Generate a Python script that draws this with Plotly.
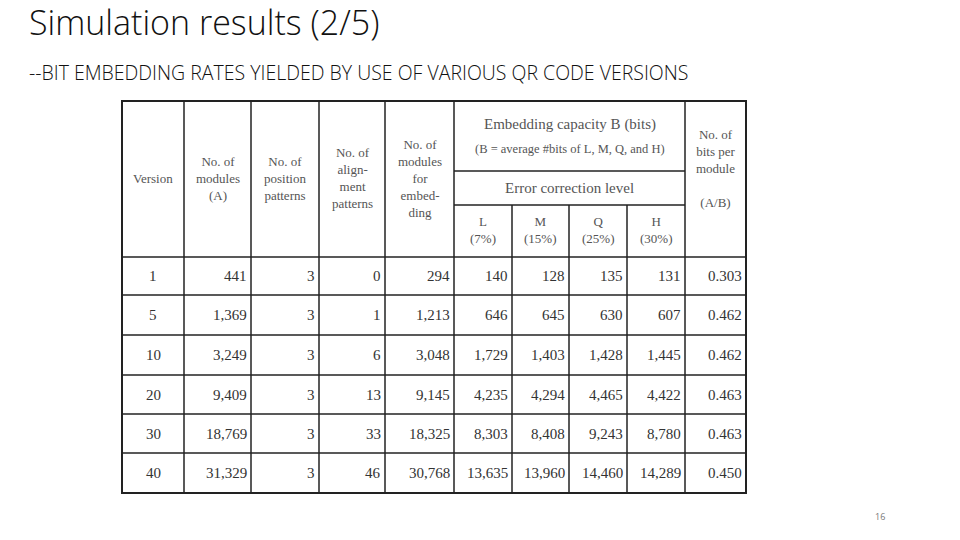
import plotly.graph_objects as go

versions = ["1", "5", "10", "20", "30", "40"]
modules = ["441", "1,369", "3,249", "9,409", "18,769", "31,329"]
position = ["3", "3", "3", "3", "3", "3"]
alignment = ["0", "1", "6", "13", "33", "46"]
embed_modules = ["294", "1,213", "3,048", "9,145", "18,325", "30,768"]
cap_L = ["140", "646", "1,729", "4,235", "8,303", "13,635"]
cap_M = ["128", "645", "1,403", "4,294", "8,408", "13,960"]
cap_Q = ["135", "630", "1,428", "4,465", "9,243", "14,460"]
cap_H = ["131", "607", "1,445", "4,422", "8,780", "14,289"]
bits_per_module = ["0.303", "0.462", "0.462", "0.463", "0.463", "0.450"]

columns = [versions, modules, position, alignment, embed_modules,
           cap_L, cap_M, cap_Q, cap_H, bits_per_module]

header_simple = ["Version", "No. of<br>modules<br>(A)", "No. of<br>position<br>patterns",
                 "No. of<br>align-<br>ment<br>patterns", "No. of<br>modules<br>for<br>embed-<br>ding"]
levels = ["L<br>(7%)", "M<br>(15%)", "Q<br>(25%)", "H<br>(30%)"]
header_last = "No. of<br>bits per<br>module<br><br>(A/B)"

# table geometry (pixel space)
xb = [122, 184, 251, 319, 385, 454, 512, 569, 627, 685, 746]
yb = [101, 257, 295, 335, 375, 414, 453, 493]
y_sub1, y_sub2 = 171, 205

serif = "Liberation Serif"
line = dict(color="#222", width=1.5)

fig = go.Figure()
shapes = []
shapes.append(dict(type="rect", x0=xb[0], x1=xb[-1], y0=yb[0], y1=yb[-1], line=dict(color="#222", width=2)))
for y in yb[1:-1]:
    shapes.append(dict(type="line", x0=xb[0], x1=xb[-1], y0=y, y1=y, line=line))
for i, x in enumerate(xb[1:-1], start=1):
    y0 = yb[0] if i in (1, 2, 3, 4, 5, 9) else y_sub2
    shapes.append(dict(type="line", x0=x, x1=x, y0=y0, y1=yb[-1], line=line))
shapes.append(dict(type="line", x0=xb[5], x1=xb[9], y0=y_sub1, y1=y_sub1, line=line))
shapes.append(dict(type="line", x0=xb[5], x1=xb[9], y0=y_sub2, y1=y_sub2, line=line))

ann = []
hc = "#555"
for i, t in enumerate(header_simple):
    ann.append(dict(x=(xb[i] + xb[i + 1]) / 2, y=178, text=t,
                    font=dict(family=serif, size=13, color=hc)))
ann.append(dict(x=(xb[9] + xb[10]) / 2, y=168, text=header_last, font=dict(family=serif, size=13, color=hc)))
ann.append(dict(x=(xb[5] + xb[9]) / 2, y=124, text="Embedding capacity B (bits)",
                font=dict(family=serif, size=15, color=hc)))
ann.append(dict(x=(xb[5] + xb[9]) / 2, y=149, text="(B = average #bits of L, M, Q, and H)",
                font=dict(family=serif, size=12.5, color=hc)))
ann.append(dict(x=(xb[5] + xb[9]) / 2, y=188, text="Error correction level",
                font=dict(family=serif, size=15, color=hc)))
for j, t in enumerate(levels):
    ann.append(dict(x=(xb[5 + j] + xb[6 + j]) / 2, y=230, text=t, font=dict(family=serif, size=13, color=hc)))

for c, col in enumerate(columns):
    for r, v in enumerate(col):
        yc = (yb[r + 1] + yb[r + 2]) / 2
        if c == 0:
            ann.append(dict(x=(xb[0] + xb[1]) / 2, y=yc, text=v, xanchor="center",
                            font=dict(family=serif, size=15, color="#333")))
        else:
            ann.append(dict(x=xb[c + 1] - 2, y=yc, text=v, xanchor="right",
                            font=dict(family=serif, size=15, color="#333")))

for a in ann:
    a.update(xref="x", yref="y", showarrow=False)
    a.setdefault("xanchor", "center")

# slide texts
ann.append(dict(x=27, y=22, xref="x", yref="y", text="Simulation results (2/5)", showarrow=False, xanchor="left",
                font=dict(family="Open Sans", size=34, color="#111", weight=300)))
ann.append(dict(x=27, y=72, xref="x", yref="y", text="--BIT EMBEDDING RATES YIELDED BY USE OF VARIOUS QR CODE VERSIONS",
                showarrow=False, xanchor="left", font=dict(family="Open Sans", size=19.5, color="#111", weight=300)))
ann.append(dict(x=880, y=516, xref="x", yref="y", text="16", showarrow=False,
                font=dict(family="Open Sans", size=9, color="#777")))

# page body adds an 8px offset, so the axis ranges are shifted to compensate
fig.update_layout(
    width=960, height=540, margin=dict(l=0, r=0, t=0, b=0),
    plot_bgcolor="white", paper_bgcolor="white",
    xaxis=dict(range=[8, 968], visible=False, fixedrange=True),
    yaxis=dict(range=[548, 8], visible=False, fixedrange=True),
    shapes=shapes, annotations=ann, showlegend=False,
)
fig.write_html("out.html")
